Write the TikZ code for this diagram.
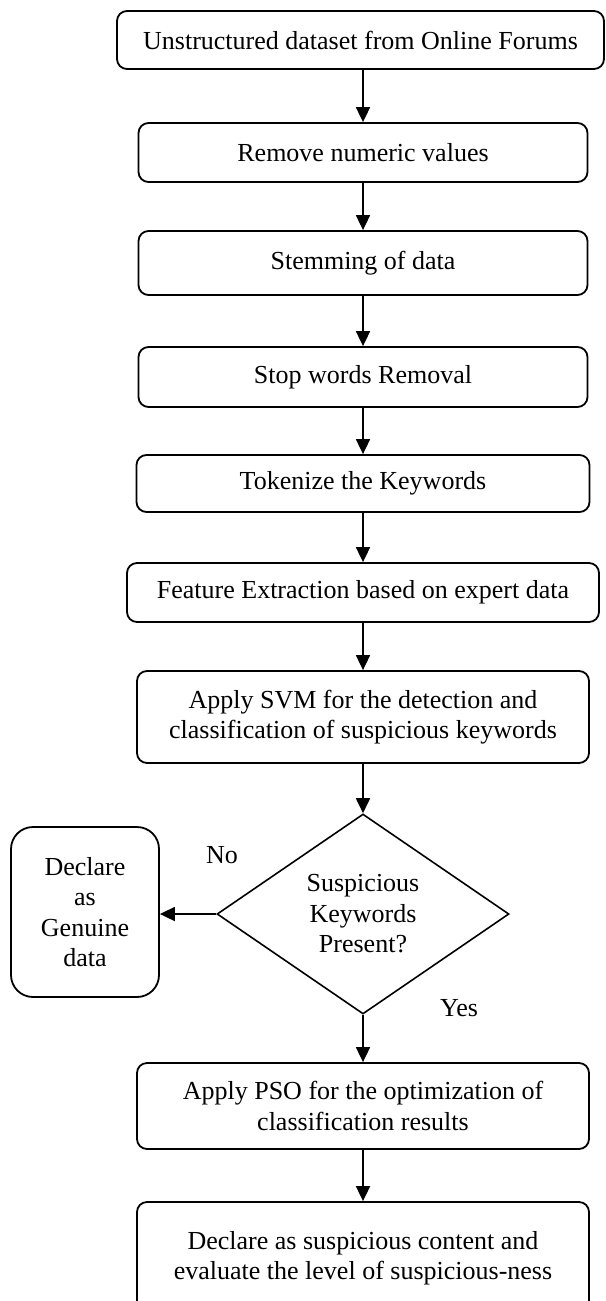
\documentclass[tikz,border=0pt]{standalone}
\usepackage{fontspec}
\setmainfont{Liberation Serif}
\usetikzlibrary{shapes.geometric,arrows.meta}
\begin{document}
\begin{tikzpicture}[x=1pt,y=-1pt,
  txt/.style={font=\fontsize{26}{30.5}\selectfont},
  box/.style={txt,draw,line width=1.8pt,rounded corners=10pt,inner sep=0pt,align=center},
  dec/.style={txt,draw,line width=1.6pt,shape=diamond,aspect=1.46,inner sep=0pt,align=center,minimum width=292pt,minimum height=200pt},
  arr/.style={line width=1.8pt,-{Triangle[length=15pt,width=14pt]}},
  lbl/.style={txt,inner sep=0pt}]
\useasboundingbox (0,0) rectangle (605,1301);
\clip (0,0) rectangle (605,1301);
\node[box,minimum width=487pt,minimum height=58pt] (b1) at (360.5,40) {Unstructured dataset from Online Forums};
\node[box,minimum width=449pt,minimum height=59pt] (b2) at (363,152.5) {Remove numeric values};
\node[box,minimum width=449pt,minimum height=64pt] (b3) at (363,263) {Stemming of data};
\node[box,minimum width=449pt,minimum height=60pt] (b4) at (363,377) {Stop words Removal};
\node[box,minimum width=453pt,minimum height=57pt] (b5) at (363,483.5) {Tokenize the Keywords};
\node[box,minimum width=472pt,minimum height=59pt] (b6) at (363,592.5) {Feature Extraction based on expert data};
\node[box,minimum width=452pt,minimum height=92pt] (b7) at (363,717) {Apply SVM for the detection and\\classification of suspicious keywords};
\node[dec] (d1) at (363,914) {Suspicious\\Keywords\\Present?};
\node[box,minimum width=148pt,minimum height=170pt,rounded corners=22pt] (g1) at (85,912) {Declare\\as\\Genuine\\data};
\node[box,minimum width=452pt,minimum height=86pt] (b8) at (363,1106) {Apply PSO for the optimization of\\classification results};
\node[box,minimum width=452pt,minimum height=112pt] (b9) at (363,1258) {Declare as suspicious content and\\evaluate the level of suspicious-ness};
\node[lbl] (no) at (222,855) {No};
\node[lbl] (yes) at (459,1008) {Yes};
\draw[arr] (b1.south -| b2.north) -- (b2.north);
\draw[arr] (b2) -- (b3);
\draw[arr] (b3) -- (b4);
\draw[arr] (b4) -- (b5);
\draw[arr] (b5) -- (b6);
\draw[arr] (b6) -- (b7);
\draw[arr] (b7) -- (d1.north);
\draw[arr] (d1.west) -- (d1.west -| g1.east);
\draw[arr] (d1.south) -- (b8);
\draw[arr] (b8) -- (b9);
\end{tikzpicture}
\end{document}
